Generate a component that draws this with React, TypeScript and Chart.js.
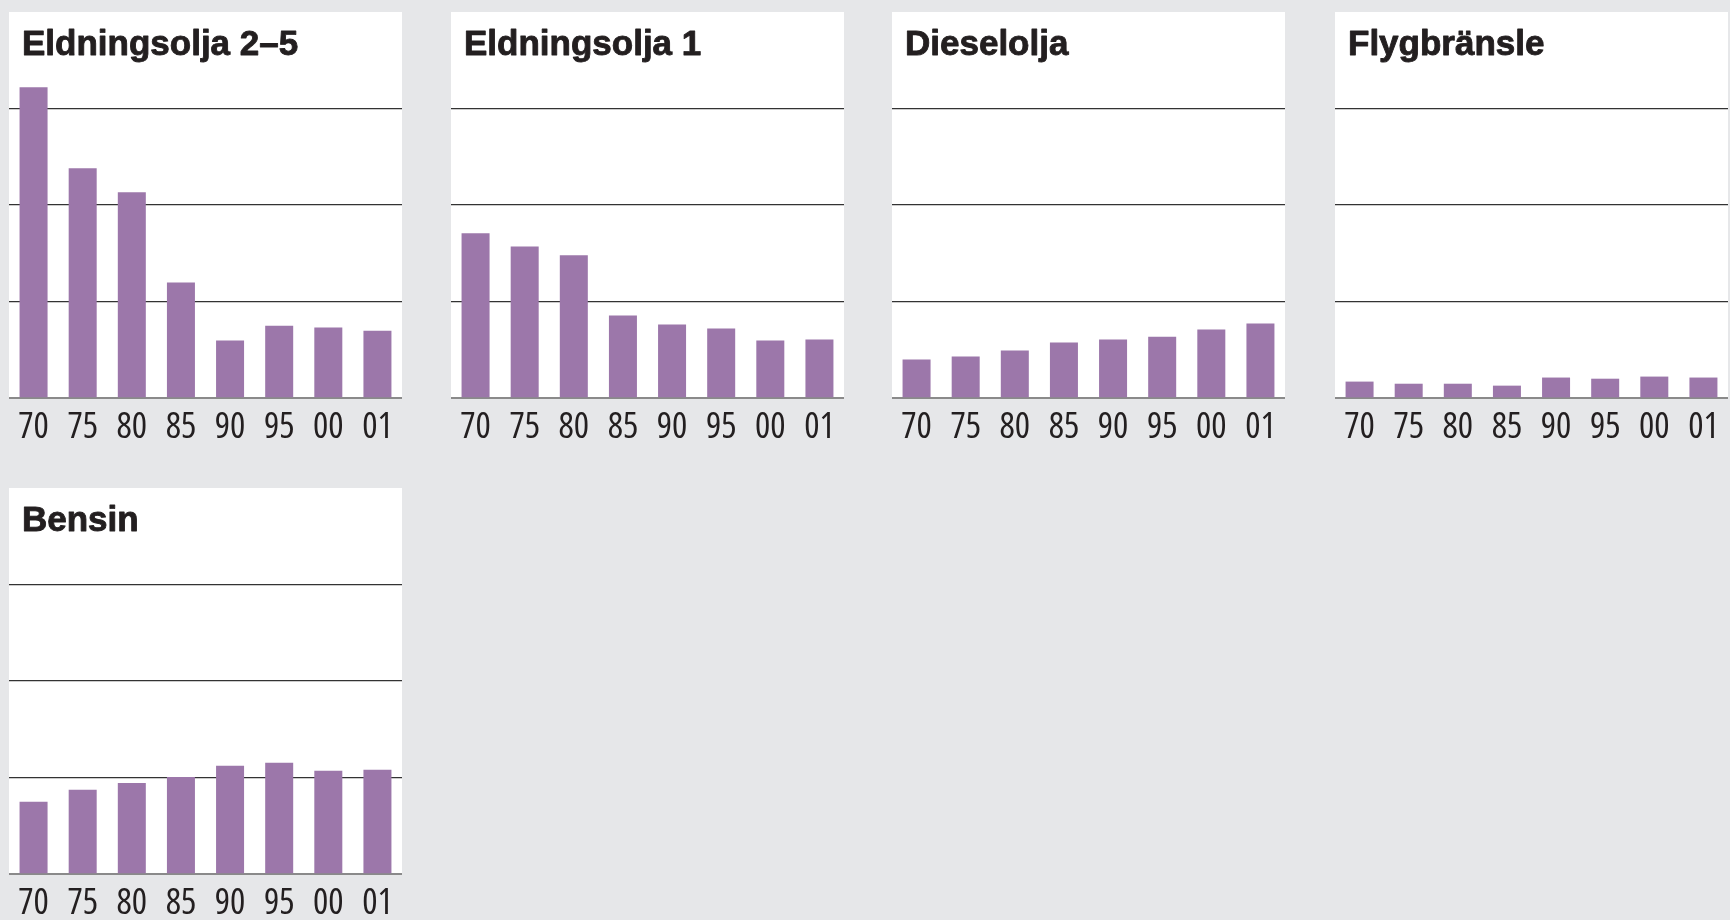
import React, { useEffect, useRef } from "react";
import { Chart, registerables } from "chart.js";

Chart.register(...registerables);

// ---- data ----
const years = ["70", "75", "80", "85", "90", "95", "00", "01"];
const eldningsolja25 = [16.1, 11.9, 10.66, 5.99, 2.98, 3.75, 3.65, 3.49];
const eldningsolja1 = [8.53, 7.85, 7.39, 4.27, 3.81, 3.6, 2.98, 3.03];
const dieselolja = [1.99, 2.15, 2.46, 2.87, 3.03, 3.18, 3.55, 3.86];
const flygbransle = [0.85, 0.74, 0.74, 0.64, 1.06, 1.0, 1.11, 1.06];
const bensin = [3.74, 4.36, 4.72, 5.03, 5.61, 5.76, 5.35, 5.4];
const titles = ["Eldningsolja 2–5", "Eldningsolja 1", "Dieselolja", "Flygbränsle", "Bensin"];
const gridValues = [5, 10, 15];
const yMax = 20;
const yStep = 5;

// ---- styles / layout ----
const BG = "#e6e7e9";
const BAR = "#9c77aa";
const TEXT = "#231f20";
const PANEL_W = 393;
const PANEL_H = 438;
const AXIS_H = 52;
const TICK_FAMILY = '"Open Sans", "Liberation Sans", sans-serif';

const panelPlugin = {
  id: "panelDecor",
  beforeDraw(chart: any) {
    const { ctx, chartArea } = chart;
    const { left, top, right, bottom } = chartArea;
    ctx.save();
    ctx.fillStyle = "#ffffff";
    ctx.fillRect(left, top, right - left, bottom - top);
    ctx.restore();
  },
  afterDraw(chart: any, _args: any, opts: any) {
    const { ctx, chartArea } = chart;
    ctx.save();
    ctx.fillStyle = TEXT;
    ctx.strokeStyle = TEXT;
    ctx.lineWidth = 0.9;
    ctx.lineJoin = "round";
    ctx.font = 'bold 35px "Liberation Sans", Arial, sans-serif';
    ctx.textBaseline = "alphabetic";
    ctx.textAlign = "left";
    const x = chartArea.left + 13;
    const y = chartArea.top + 43;
    ctx.fillText(opts.text || "", x, y);
    ctx.strokeText(opts.text || "", x, y);
    ctx.restore();
  },
};

function Panel({ title, values, left, top }: { title: string; values: number[]; left: number; top: number }) {
  const ref = useRef<HTMLCanvasElement>(null);
  useEffect(() => {
    const chart = new Chart(ref.current as HTMLCanvasElement, {
      type: "bar",
      data: {
        labels: years,
        datasets: [
          {
            data: values,
            backgroundColor: BAR,
            borderWidth: 0,
            barPercentage: 0.57,
            categoryPercentage: 1,
          },
        ],
      },
      options: {
        animation: false,
        responsive: false,
        maintainAspectRatio: false,
        layout: { padding: 0 },
        plugins: {
          legend: { display: false },
          tooltip: { enabled: false },
          // @ts-ignore
          panelDecor: { text: title },
        },
        scales: {
          x: {
            grid: { display: false, drawTicks: false },
            border: { display: true, color: "#8a8a8a", width: 2 },
            ticks: {
              color: TEXT,
              padding: 8,
              maxRotation: 0,
              autoSkip: false,
              font: { family: TICK_FAMILY, size: 36, weight: "400 condensed" as any },
            },
            afterFit: (s: any) => {
              s.height = AXIS_H;
              s.paddingLeft = 0;
              s.paddingRight = 0;
            },
          },
          y: {
            min: 0,
            max: yMax,
            ticks: { stepSize: yStep, display: false },
            grid: {
              drawTicks: false,
              lineWidth: 1.3,
              color: (c: any) => (gridValues.includes(c.tick?.value) ? "#333333" : "rgba(0,0,0,0)"),
            },
            border: { display: false },
            afterFit: (s: any) => {
              s.width = 0;
              s.paddingTop = 0;
              s.paddingBottom = 0;
            },
          },
        },
      },
      plugins: [panelPlugin as any],
    });
    return () => chart.destroy();
  }, [title, values]);
  return (
    <canvas
      ref={ref}
      width={PANEL_W}
      height={PANEL_H}
      style={{ position: "absolute", left, top, width: PANEL_W, height: PANEL_H }}
    />
  );
}

export default function App() {
  return (
    <div style={{ position: "fixed", left: 0, top: 0, width: 1730, height: 920, background: BG, overflow: "hidden" }}>
      <Panel title={titles[0]} values={eldningsolja25} left={9} top={12} />
      <Panel title={titles[1]} values={eldningsolja1} left={451} top={12} />
      <Panel title={titles[2]} values={dieselolja} left={892} top={12} />
      <Panel title={titles[3]} values={flygbransle} left={1335} top={12} />
      <Panel title={titles[4]} values={bensin} left={9} top={488} />
    </div>
  );
}
